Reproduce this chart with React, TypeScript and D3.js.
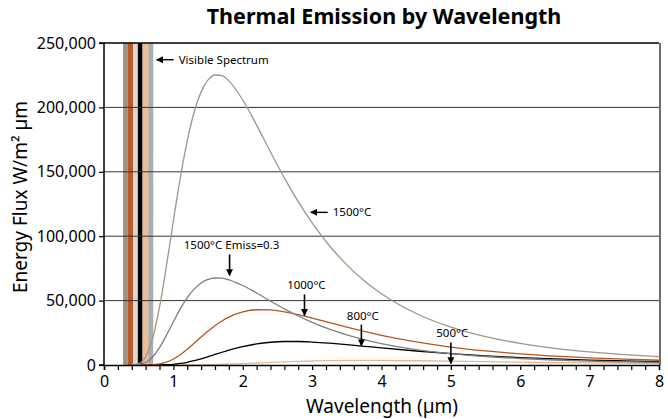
import { useEffect, useRef } from "react";
import * as d3 from "d3";

// wavelength grid (µm) shared by every series
const wavelengths = [0.4, 0.5, 0.6, 0.7, 0.8, 0.9, 1.0, 1.1, 1.2, 1.3, 1.4, 1.5, 1.6, 1.7, 1.8, 2.0, 2.2, 2.4, 2.6, 2.8, 3.0, 3.25, 3.5, 3.75, 4.0, 4.5, 5.0, 5.5, 6.0, 6.5, 7.0, 7.5, 8.0];

const flux1500 = [56, 1071, 6436, 20551, 44891, 76915, 111920, 145400, 174090, 196430, 212050, 221330, 225150, 224610, 220590, 205760, 186220, 165410, 145310, 126840, 110340, 92594, 77768, 65477, 55323, 39999, 29432, 22041, 16784, 12977, 10177, 8083, 6497];
const flux1500e = [17, 321, 1931, 6165, 13467, 23075, 33576, 43620, 52227, 58929, 63615, 66399, 67545, 67383, 66177, 61728, 55866, 49623, 43593, 38052, 33102, 27778, 23330, 19643, 16597, 12000, 8830, 6612, 5035, 3893, 3053, 2425, 1949];
const flux1000 = [0, 2, 32, 217, 835, 2228, 4618, 8012, 12209, 16889, 21697, 26330, 30547, 34198, 37195, 41222, 42888, 42724, 41302, 39080, 36427, 32881, 29364, 26051, 23024, 17904, 13943, 10922, 8626, 6875, 5530, 4488, 3675];
const flux800 = [0, 0, 1, 11, 60, 214, 562, 1181, 2111, 3339, 4818, 6463, 8184, 9896, 11528, 14346, 16403, 17669, 18237, 18243, 17837, 16940, 15792, 14533, 13255, 10853, 8797, 7115, 5767, 4695, 3844, 3168, 2628];
const flux500 = [0, 0, 0, 0, 0, 1, 3, 10, 28, 61, 117, 201, 317, 463, 639, 1062, 1537, 2014, 2452, 2824, 3118, 3371, 3510, 3551, 3516, 3294, 2966, 2609, 2265, 1952, 1676, 1438, 1235];

const yTicks = [0, 50000, 100000, 150000, 200000, 250000];
const xTicks = [0, 1, 2, 3, 4, 5, 6, 7, 8];

// visible spectrum bands: edges in µm, one colour per band
const bandEdges = [0.275, 0.343, 0.42, 0.488, 0.556, 0.637, 0.71];
const bandColors = ["#9b9484", "#b95a2b", "#dcd6cf", "#000000", "#e8bd98", "#adadad"];

const series = [
  { name: "500°C", values: flux500, color: "#e9b78f" },
  { name: "800°C", values: flux800, color: "#000000" },
  { name: "1000°C", values: flux1000, color: "#b9531f" },
  { name: "1500°C Emiss=0.3", values: flux1500e, color: "#7f7f7f" },
  { name: "1500°C", values: flux1500, color: "#9d9785" },
];

// annotations: label, arrow tip (data coords)
const downNotes = [
  { text: "1500°C Emiss=0.3", x: 1.81, y: 69500, tx: 1.15 },
  { text: "1000°C", x: 2.89, y: 38500, tx: 2.64 },
  { text: "800°C", x: 3.71, y: 15000, tx: 3.5 },
  { text: "500°C", x: 5.0, y: 1200, tx: 4.79 },
];
const leftNotes = [
  { text: "Visible Spectrum", x: 0.76, y: 237000 },
  { text: "1500°C", x: 2.98, y: 118500 },
];

const W = 668;
const H = 419;

export default function App() {
  const svgRef = useRef(null);

  useEffect(() => {
    const svg = d3.select(svgRef.current);
    svg.selectAll("*").remove();

    const font = "'Noto Sans', 'Open Sans', sans-serif";
    const x = d3.scaleLinear().domain([0, 8]).range([104, 659]);
    const y = d3.scaleLinear().domain([0, 250000]).range([365, 43]);

    const defs = svg.append("defs");
    defs
      .append("marker")
      .attr("id", "head")
      .attr("viewBox", "0 0 10 10")
      .attr("refX", 9)
      .attr("refY", 5)
      .attr("markerWidth", 7)
      .attr("markerHeight", 7)
      .attr("markerUnits", "userSpaceOnUse")
      .attr("orient", "auto")
      .append("path")
      .attr("d", "M0,0 L10,5 L0,10 Z")
      .attr("fill", "#000");

    // title
    svg
      .append("text")
      .attr("x", 384)
      .attr("y", 24)
      .attr("text-anchor", "middle")
      .style("font-family", font)
      .style("font-size", "21.5px")
      .style("font-weight", "bold")
      .text("Thermal Emission by Wavelength");

    // visible spectrum bands
    svg
      .selectAll(".band")
      .data(bandColors)
      .enter()
      .append("rect")
      .attr("x", (d, i) => x(bandEdges[i]))
      .attr("width", (d, i) => x(bandEdges[i + 1]) - x(bandEdges[i]))
      .attr("y", y(250000))
      .attr("height", y(0) - y(250000))
      .attr("fill", (d) => d);

    // grid
    svg
      .selectAll(".grid")
      .data(yTicks.slice(1))
      .enter()
      .append("line")
      .attr("x1", x(0))
      .attr("x2", x(8))
      .attr("y1", (d) => y(d))
      .attr("y2", (d) => y(d))
      .attr("stroke", (d) => (d === 250000 ? "#000" : "#333"))
      .attr("stroke-width", (d) => (d === 250000 ? 1.5 : 1));

    // right frame
    svg
      .append("line")
      .attr("x1", x(8) + 1)
      .attr("x2", x(8) + 1)
      .attr("y1", y(250000))
      .attr("y2", y(0))
      .attr("stroke", "#6e6e6e")
      .attr("stroke-width", 2);

    // curves
    const line = d3
      .line<number>()
      .x((d, i) => x(wavelengths[i]))
      .y((d) => y(d))
      .curve(d3.curveMonotoneX);

    svg
      .selectAll(".curve")
      .data(series)
      .enter()
      .append("path")
      .attr("d", (s) => line(s.values))
      .attr("fill", "none")
      .attr("stroke", (s) => s.color)
      .attr("stroke-width", 1.3);

    // axes
    const xAxis = d3
      .axisBottom(x)
      .tickValues(d3.range(0, 8.01, 0.2))
      .tickSize(5)
      .tickFormat((d) => {
        const v = Number(d);
        return xTicks.includes(Math.round(v * 10) / 10) ? String(Math.round(v)) : "";
      });
    const gx = svg.append("g").attr("transform", `translate(0,${y(0)})`).call(xAxis);
    gx.select(".domain").attr("stroke", "#000").attr("stroke-width", 1.5);
    gx.selectAll(".tick line").attr("stroke", "#000").attr("stroke-width", 1.2);
    gx.selectAll(".tick text")
      .attr("dy", "0.88em")
      .style("font-family", font)
      .style("font-size", "16px")
      .attr("fill", "#000");

    const yAxis = d3
      .axisLeft(y)
      .tickValues(yTicks)
      .tickSize(5)
      .tickFormat(d3.format(","));
    const gy = svg.append("g").attr("transform", `translate(${x(0)},0)`).call(yAxis);
    gy.select(".domain").attr("stroke", "#000").attr("stroke-width", 1.5).attr("d", `M-5,${y(250000)}H0V${y(0)}H-5`);
    gy.selectAll(".tick line").attr("stroke", "#000").attr("stroke-width", 1.2);
    gy.selectAll(".tick text")
      .attr("x", -8)
      .style("font-family", font)
      .style("font-size", "16px")
      .attr("fill", "#000");

    // axis titles
    svg
      .append("text")
      .attr("x", 382)
      .attr("y", 413)
      .attr("text-anchor", "middle")
      .style("font-family", font)
      .style("font-size", "19px")
      .text("Wavelength (µm)");

    svg
      .append("text")
      .attr("transform", `translate(27,${197}) rotate(-90)`)
      .attr("text-anchor", "middle")
      .style("font-family", font)
      .style("font-size", "19px")
      .text("Energy Flux W/m² µm");

    // annotations with downward arrows
    const dn = svg.selectAll(".dn").data(downNotes).enter().append("g");
    dn.append("line")
      .attr("x1", (d) => x(d.x))
      .attr("x2", (d) => x(d.x))
      .attr("y1", (d) => y(d.y) - 21)
      .attr("y2", (d) => y(d.y))
      .attr("stroke", "#000")
      .attr("stroke-width", 1.6)
      .attr("marker-end", "url(#head)");
    dn.append("text")
      .attr("x", (d) => x(d.tx))
      .attr("y", (d) => y(d.y) - 26)
      .style("font-family", font)
      .style("font-size", "11.5px")
      .text((d) => d.text);

    // annotations with leftward arrows
    const lf = svg.selectAll(".lf").data(leftNotes).enter().append("g");
    lf.append("line")
      .attr("x1", (d) => x(d.x) + 17)
      .attr("x2", (d) => x(d.x))
      .attr("y1", (d) => y(d.y))
      .attr("y2", (d) => y(d.y))
      .attr("stroke", "#000")
      .attr("stroke-width", 1.4)
      .attr("marker-end", "url(#head)");
    lf.append("text")
      .attr("x", (d) => x(d.x) + 22)
      .attr("y", (d) => y(d.y) + 4)
      .style("font-family", font)
      .style("font-size", "11.5px")
      .text((d) => d.text);
  }, []);

  return (
    <svg
      ref={svgRef}
      width={W}
      height={H}
      style={{ position: "absolute", left: 0, top: 0, background: "#fff" }}
    ></svg>
  );
}
